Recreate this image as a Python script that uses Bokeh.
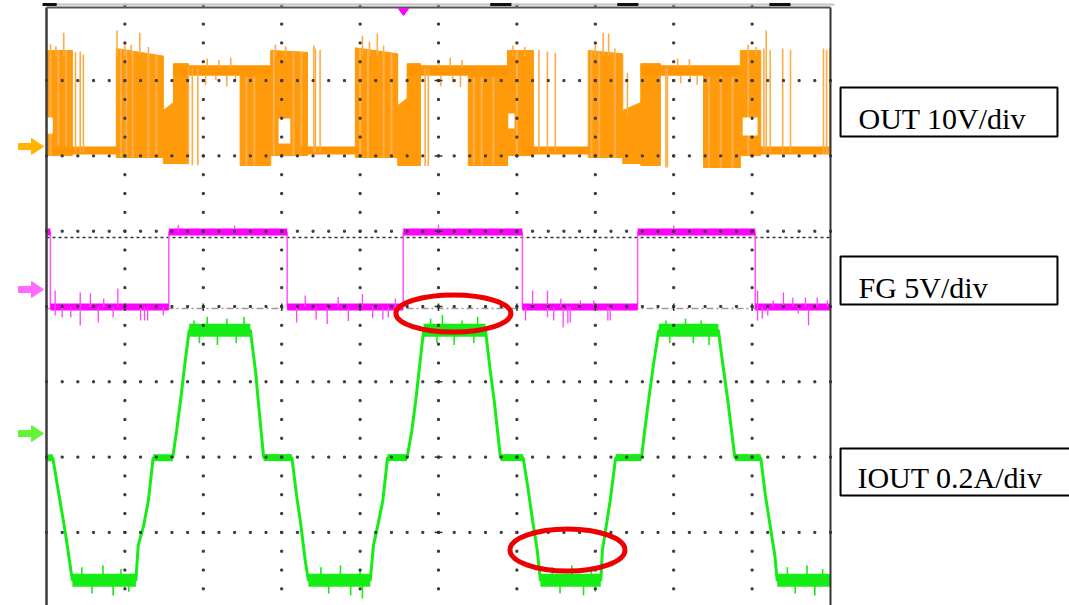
import numpy as np
from bokeh.plotting import figure
from bokeh.models import Range1d
from bokeh.core.properties import value
from bokeh.embed import file_html
from bokeh.resources import INLINE

# ---------------- data (time in graticule divisions, 10 div across) ----------------
# CH1  OUT  (volts, 10 V/div) : dense PWM blocks, low level, plateau, gaps, single spikes
out_dense_t0   = [0.00, 0.89, 1.49, 1.62, 2.47, 2.86, 3.94, 4.48, 4.60, 5.38, 5.88, 6.91, 7.35, 7.58, 8.38, 8.85]
out_dense_t1   = [0.33, 1.49, 1.62, 1.81, 2.86, 3.33, 4.48, 4.60, 4.77, 5.88, 6.21, 7.35, 7.58, 7.83, 8.85, 9.11]
out_dense_top0 = [12.75, 13.0, 4.78, 11.0, 10.6, 12.75, 13.1, 5.44, 11.0, 10.6, 12.75, 12.75, 4.78, 11.0, 10.6, 12.75]
out_dense_top1 = [12.75, 12.0, 5.84, 11.0, 10.6, 12.5, 12.3, 6.37, 11.0, 10.6, 12.75, 12.3, 5.84, 11.0, 10.6, 12.75]
out_dense_bot  = [-1.2, -1.46, -2.26, -2.26, -2.52, -1.2, -1.46, -2.52, -2.52, -2.52, -1.2, -1.46, -2.26, -2.52, -2.79, -1.2]

out_low_t0 = [0.08, 3.24, 6.08, 9.08]
out_low_t1 = [0.92, 3.97, 6.94, 10.00]
out_low_hi = [0.0, 0.0, 0.0, 0.0]
out_low_lo = [-1.06, -1.06, -1.06, -1.06]

out_plat_t0 = [1.62, 4.60, 7.58]
out_plat_t1 = [2.86, 5.88, 8.85]
out_plat_hi = [10.8, 10.8, 10.8]
out_plat_lo = [9.4, 9.4, 9.4]

out_gap_t0 = [0.01, 2.96, 5.89, 8.88]
out_gap_t1 = [0.08, 3.11, 5.97, 9.07]
out_gap_hi = [3.85, 3.72, 4.38, 3.85]
out_gap_lo = [1.70, 0.40, 2.39, 1.46]

out_spike_t  = [0.22, 0.37, 0.43, 0.47, 0.90, 1.19, 1.81, 1.86, 1.93, 2.05, 2.20, 2.35, 2.03, 2.16, 2.30, 2.41,
                3.41, 3.43, 3.49, 4.03, 4.22, 4.83, 4.87, 5.00, 5.15, 5.30, 5.03, 5.18, 5.28, 6.28, 6.39, 6.49,
                7.10, 7.17, 7.41, 7.90, 7.92, 8.05, 8.20, 8.09, 8.21, 8.30, 9.15, 9.18, 9.23, 9.39, 9.49,
                9.91, 9.95, 9.99,
                0.05, 0.12, 1.00, 1.08, 1.30, 2.92, 3.05, 4.12, 4.30, 5.95, 6.10, 7.00, 7.25, 8.95, 9.05]
out_spike_hi = [15.1, 12.5, 12.6, 12.2, 15.4, 15.1, 10.6, 10.4, 10.4, 11.7, 11.5, 11.8, 9.4, 9.4, 9.4, 9.4,
                13.4, 13.0, 12.8, 14.7, 15.0, 10.4, 10.4, 11.6, 11.8, 11.5, 9.4, 9.4, 9.4, 12.8, 12.6, 12.4,
                15.1, 15.0, 9.8, 10.4, 10.4, 11.7, 11.6, 9.4, 9.4, 9.4, 13.0, 15.4, 12.8, 13.0, 12.8,
                13.0, 12.8, 13.0,
                13.6, 13.3, 13.8, 13.5, 13.2, 13.5, 13.3, 13.9, 13.4, 13.4, 13.2, 13.6, 13.0, 13.5, 13.2]
out_spike_lo = [12.0, -0.8, -0.8, -0.8, 12.0, 12.0, -2.4, -2.5, -2.5, 10.5, 10.5, 10.5, 8.2, 8.8, 8.0, 8.6,
                -0.8, -0.8, -0.8, 12.0, 12.0, -2.6, -2.6, 10.5, 10.5, 10.5, 8.0, 8.5, 7.9, -0.8, -0.8, -0.8,
                12.0, 12.0, 4.0, -2.8, -2.8, 10.5, 10.5, 8.4, 8.8, 8.2, -0.8, -0.8, -0.8, -0.8, -0.8,
                -1.0, -1.0, -1.0,
                12.0, 12.0, 12.0, 12.0, 11.5, 12.0, 12.0, 12.0, 12.0, 12.0, 12.0, 12.0, 11.8, 12.0, 12.0]
# lighter stripes inside dense PWM blocks
out_stripe_t = [0.05, 0.15, 0.25, 0.95, 1.02, 1.10, 1.30, 1.40, 2.55, 2.65, 2.90, 3.15, 3.25,
                4.00, 4.10, 4.30, 4.40, 5.45, 5.55, 5.70, 6.00, 6.95, 7.05, 7.25, 8.45, 8.60, 8.75, 8.95]

# CH2  FG  (volts, 5 V/div)
fg_t = [0.00, 0.05, 0.05, 1.56, 1.56, 3.07, 3.07, 4.55, 4.55, 6.07, 6.07, 7.54, 7.54, 9.04, 9.04, 10.00]
fg_v = [3.82, 3.82, -1.16, -1.16, 3.82, 3.82, -1.16, -1.16, 3.82, 3.82, -1.16, -1.16, 3.82, 3.82, -1.16, -1.16]
fg_spike_t = [0.11, 0.11, 0.20, 0.31, 0.43, 0.43, 0.56, 0.66, 0.73, 0.85, 0.91, 1.20, 1.25, 1.29, 1.49,
              3.19, 3.30, 3.44, 3.58, 3.72, 3.85, 4.03, 4.16, 4.29, 4.36, 4.45,
              6.11, 6.20, 6.39, 6.39, 6.47, 6.56, 6.59, 6.65, 6.68, 6.81, 6.98, 7.16, 7.19,
              9.07, 9.07, 9.13, 9.20, 9.27, 9.40, 9.52, 9.59, 9.68, 9.72, 9.83, 9.96,
              1.68, 2.40, 5.00, 8.00]
fg_spike_v = [-0.07, -1.73, -1.86, -1.86, -0.2, -2.39, -0.27, -2.19, -0.6, -1.86, 0.07, -2.06, -2.06, -2.06, -1.73,
              -2.19, -0.4, -2.0, -2.3, -0.5, -2.1, -0.3, -1.9, -2.0, -1.86, -0.6,
              -2.06, -0.07, -0.07, -1.86, -2.06, -0.6, -2.52, -2.26, -2.19, -0.73, -0.73, -2.06, -2.06,
              -0.07, -2.06, -1.93, -1.73, -0.73, -0.2, -0.53, -1.59, -0.53, -2.39, -0.53, -0.73,
              4.30, 4.25, 4.30, 4.25]
fg_cursor_v = [3.45, -1.26]

# CH3  IOUT  (amperes, 0.2 A/div)
iout_t = [0.00, 0.08, 0.15, 0.24, 0.33, 1.14, 1.17, 1.24, 1.30, 1.36, 1.61, 1.66, 1.71, 1.77, 1.82,
          2.60, 2.67, 2.70, 2.77, 3.13, 3.19, 3.24, 3.30, 3.34, 4.13, 4.17, 4.22, 4.29, 4.35,
          4.60, 4.66, 4.71, 4.76, 4.81, 5.60, 5.66, 5.71, 5.79, 6.08, 6.14, 6.20, 6.26, 6.30,
          7.07, 7.09, 7.13, 7.19, 7.26, 7.59, 7.63, 7.68, 7.74, 7.81, 8.57, 8.62, 8.69, 8.78,
          9.11, 9.17, 9.23, 9.29, 9.32, 10.00]
iout_a = [-0.064, -0.064, -0.151, -0.263, -0.390, -0.390, -0.297, -0.244, -0.178, -0.064, -0.064, 0.008, 0.088, 0.194, 0.274,
          0.274, 0.159, 0.088, -0.064, -0.064, -0.165, -0.236, -0.337, -0.390, -0.390, -0.297, -0.250, -0.178, -0.064,
          -0.064, 0.008, 0.088, 0.181, 0.274, 0.274, 0.167, 0.088, -0.064, -0.064, -0.143, -0.231, -0.311, -0.390,
          -0.390, -0.311, -0.258, -0.178, -0.064, -0.064, 0.008, 0.088, 0.181, 0.274, 0.274, 0.194, 0.088, -0.064,
          -0.064, -0.165, -0.244, -0.324, -0.390, -0.390]
iout_spike_t = [0.45, 0.58, 0.72, 0.85, 0.95, 1.05, 1.88, 1.95, 2.05, 2.18, 2.30, 2.42, 2.52,
                3.50, 3.60, 3.75, 3.88, 4.00, 4.03, 4.90, 4.98, 5.05, 5.20, 5.30, 5.45, 5.50,
                6.45, 6.55, 6.70, 6.85, 6.95, 7.00, 7.90, 7.95, 8.15, 8.25, 8.35, 8.45,
                9.45, 9.55, 9.70, 9.80, 9.90]
iout_spike_a = [-0.355, -0.425, -0.35, -0.43, -0.36, -0.42, 0.30, 0.24, 0.31, 0.235, 0.305, 0.24, 0.31,
                -0.355, -0.425, -0.35, -0.43, -0.36, -0.438, 0.305, 0.24, 0.315, 0.235, 0.30, 0.24, 0.31,
                -0.355, -0.425, -0.35, -0.43, -0.36, -0.42, 0.30, 0.24, 0.305, 0.24, 0.30, 0.235,
                -0.355, -0.425, -0.35, -0.43, -0.36]

channel_labels = ["OUT 10V/div", "FG 5V/div", "IOUT 0.2A/div"]
markers_t = [5.19, 6.645]          # highlighted regions (time)
markers_y = [-0.093, -3.234]       # screen divisions
top_bar_t0 = [-0.05, 5.66, 7.28, 9.22]
top_bar_t1 = [0.13, 5.93, 7.55, 9.49]

# ---------------- display settings ----------------
OUT_POS, OUT_SCALE = 2.125, 10.0
FG_POS, FG_SCALE = 0.226, 5.0
IOUT_POS, IOUT_SCALE = -1.687, 0.2


def scr(v, pos, scale):
    return pos + np.asarray(v, dtype=float) / scale


X0, X1 = -0.5867, 13.0485
Y0, Y1 = -3.9708, 4.0637
p = figure(width=1069, height=605, x_range=Range1d(X0, X1), y_range=Range1d(Y0, Y1),
           output_backend="svg", toolbar_location=None, min_border=0,
           x_axis_location=None, y_axis_location=None)
p.outline_line_color = None
p.grid.visible = False
p.background_fill_color = "white"
p.border_fill_color = "white"

# FG cursor reference lines (under traces)
cur = scr(fg_cursor_v, FG_POS, FG_SCALE)
p.line([0, 10], [cur[0], cur[0]], line_color="#333333", line_width=1.5, line_dash="3 3")
p.line([0, 10], [cur[1], cur[1]], line_color="#9a9a9a", line_width=1.5, line_dash="7 3 2 3")

ORANGE = "#FF9A0A"
ORANGE_L = "#FFAB45"
# OUT dense PWM blocks
xs, ys = [], []
for t0, t1, a0, a1, b in zip(out_dense_t0, out_dense_t1, out_dense_top0, out_dense_top1, out_dense_bot):
    xs.append([t0, t1, t1, t0])
    ys.append(list(scr([b, b, a1, a0], OUT_POS, OUT_SCALE)))
p.patches(xs, ys, fill_color=ORANGE, line_color=ORANGE, line_width=1)
# lighter stripes in the PWM blocks
sx, sy0, sy1 = [], [], []
for t in out_stripe_t:
    for t0, t1, a0, a1, b in zip(out_dense_t0, out_dense_t1, out_dense_top0, out_dense_top1, out_dense_bot):
        if t0 <= t <= t1:
            top = a0 + (a1 - a0) * (t - t0) / (t1 - t0)
            sx.append(t); sy0.append(b); sy1.append(top)
            break
p.segment(x0=sx, y0=scr(sy0, OUT_POS, OUT_SCALE), x1=sx, y1=scr(sy1, OUT_POS, OUT_SCALE),
          line_color="#FFAF50", line_width=2)
# low level and plateau bands
p.quad(left=out_low_t0, right=out_low_t1, top=scr(out_low_hi, OUT_POS, OUT_SCALE),
       bottom=scr(out_low_lo, OUT_POS, OUT_SCALE), fill_color="#FF9500", line_color=None)
p.quad(left=out_plat_t0, right=out_plat_t1, top=scr(out_plat_hi, OUT_POS, OUT_SCALE),
       bottom=scr(out_plat_lo, OUT_POS, OUT_SCALE), fill_color="#FF9500", line_color=None)
# gaps inside PWM blocks
p.quad(left=out_gap_t0, right=out_gap_t1, top=scr(out_gap_hi, OUT_POS, OUT_SCALE),
       bottom=scr(out_gap_lo, OUT_POS, OUT_SCALE), fill_color="white", line_color=None)
# single spikes
p.segment(x0=out_spike_t, y0=scr(out_spike_lo, OUT_POS, OUT_SCALE),
          x1=out_spike_t, y1=scr(out_spike_hi, OUT_POS, OUT_SCALE),
          line_color=ORANGE_L, line_width=1.6)

# FG trace
MAG = "#FF00FF"
fgy = scr(fg_v, FG_POS, FG_SCALE)
p.line(fg_t, fgy, line_color="#FF55FF", line_width=1.5)
hx0, hx1, hy = [], [], []
for i in range(len(fg_t) - 1):
    if fg_v[i] == fg_v[i + 1]:
        hx0.append(fg_t[i]); hx1.append(fg_t[i + 1]); hy.append(fgy[i])
p.segment(x0=hx0, y0=hy, x1=hx1, y1=hy, line_color=MAG, line_width=7, line_cap="butt")
fg_base = [3.82 if v > 1.3 else -1.16 for v in fg_spike_v]
p.segment(x0=fg_spike_t, y0=scr(fg_base, FG_POS, FG_SCALE), x1=fg_spike_t,
          y1=scr(fg_spike_v, FG_POS, FG_SCALE), line_color="#FF40FF", line_width=1.3)

# IOUT trace
GREEN = "#16EC16"
iy = scr(iout_a, IOUT_POS, IOUT_SCALE)
p.line(iout_t, iy, line_color=GREEN, line_width=3)
gx0, gx1, gy_, gw = [], [], [], []
for i in range(len(iout_t) - 1):
    if iout_a[i] == iout_a[i + 1]:
        gx0.append(iout_t[i]); gx1.append(iout_t[i + 1]); gy_.append(iy[i])
        gw.append(13 if abs(iout_a[i]) > 0.2 else 7)
p.segment(x0=gx0, y0=gy_, x1=gx1, y1=gy_, line_color=GREEN, line_width=gw, line_cap="butt")
g_base = [0.274 if a > 0 else -0.390 for a in iout_spike_a]
p.segment(x0=iout_spike_t, y0=scr(g_base, IOUT_POS, IOUT_SCALE), x1=iout_spike_t,
          y1=scr(iout_spike_a, IOUT_POS, IOUT_SCALE), line_color=GREEN, line_width=1.6)

# graticule dots
dx, dy = [], []
for k in range(1, 10):
    for j in range(-16, 17):
        dx.append(k); dy.append(j * 0.25)
for j in range(-3, 4):
    for i in range(0, 51):
        dx.append(i * 0.2); dy.append(j)
p.scatter(dx, dy, marker="square", size=2, color="#3a3a3a")
# centre-axis ticks
p.segment(x0=[4.95] * 7, y0=list(range(-3, 4)), x1=[5.05] * 7, y1=list(range(-3, 4)),
          line_color="#333333", line_width=1.5)
p.segment(x0=list(range(1, 10)), y0=[-0.06] * 9, x1=list(range(1, 10)), y1=[0.04] * 9,
          line_color="#333333", line_width=1.5)

# screen border and top status bar
p.line([-0.05, 10.05], [4.01, 4.01], line_color="#c4c4c4", line_width=2)
p.segment(x0=top_bar_t0, y0=[4.01] * 4, x1=top_bar_t1, y1=[4.01] * 4, line_color="#111111", line_width=3)
p.line([0, 0], [Y0, 3.971], line_color="#3c3c3c", line_width=2.5)
p.line([10, 10], [Y0, 3.971], line_color="#333333", line_width=2)
p.line([0, 10], [3.971, 3.971], line_color="#555555", line_width=2)

# trigger position marker
p.patch([4.49, 4.618, 4.554], [3.955, 3.955, 3.865], fill_color=MAG, line_color=MAG)

# channel ground arrows
ax = [-0.357, -0.191, -0.191, -0.038, -0.191, -0.191, -0.357]
ay = [0.04, 0.04, 0.106, 0.0, -0.106, -0.04, -0.04]
for pos, col in [(OUT_POS, "#FFB400"), (FG_POS, "#FF6BFF"), (IOUT_POS, "#66F23A")]:
    p.patch(ax, [pos + v for v in ay], fill_color=col, line_color=col)

# highlight ellipses
p.ellipse(x=markers_t, y=markers_y, width=[1.467, 1.467], height=[0.49, 0.558],
          fill_color=None, line_color="#EE0000", line_width=5)

# label boxes
p.quad(left=[10.128, 10.128, 10.128], right=[12.895, 12.895, 13.3],
       top=[2.908, 0.664, -1.886], bottom=[2.258, 0.027, -2.51],
       fill_color=None, line_color="black", line_width=2)
p.text(x=[10.357, 10.357, 10.344], y=[2.497, 0.252, -2.271], text=channel_labels,
       text_font=value("Liberation Serif"), text_font_size=value("30px"),
       text_align="left", text_baseline="alphabetic", text_color="black")

open("out.html", "w").write(file_html(p, INLINE))
